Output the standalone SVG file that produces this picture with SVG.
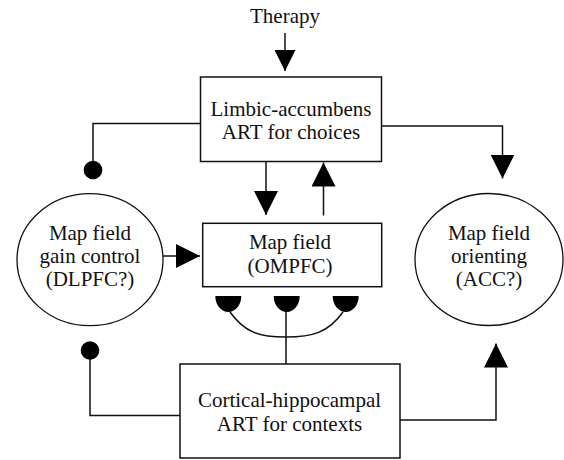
<svg xmlns="http://www.w3.org/2000/svg" width="564" height="460" viewBox="0 0 564 460">
  <style>
    .box { fill: #ffffff; stroke: #111111; stroke-width: 1.5; }
    .oval { fill: #ffffff; stroke: #111111; stroke-width: 1.3; }
    .wire { fill: none; stroke: #111111; stroke-width: 1.5; }
    .cup { fill: #000000; }
    text { font-family: "Liberation Serif", "Times New Roman", serif; font-size: 21px; fill: #111111; text-anchor: middle; }
  </style>
  <defs>
    <marker id="tri" viewBox="0 0 24 24" refX="24" refY="12" markerWidth="24" markerHeight="24" markerUnits="userSpaceOnUse" orient="auto">
      <path d="M0,0 L24,12 L0,24 Z" fill="#000000"/>
    </marker>
    <marker id="tri-small" viewBox="0 0 21 21" refX="21" refY="10.5" markerWidth="21" markerHeight="21" markerUnits="userSpaceOnUse" orient="auto">
      <path d="M0,0 L21,10.5 L0,21 Z" fill="#000000"/>
    </marker>
    <marker id="dot" viewBox="0 0 20 20" refX="10" refY="10" markerWidth="20" markerHeight="20" markerUnits="userSpaceOnUse">
      <circle cx="10" cy="10" r="9.3" fill="#000000"/>
    </marker>
  </defs>

  <g id="connectors">
    <path class="wire" d="M285,33 V71" marker-end="url(#tri-small)"/>
    <path class="wire" d="M266,161.5 V215" marker-end="url(#tri)"/>
    <path class="wire" d="M323.5,215.5 V162.5" marker-end="url(#tri)"/>
    <path class="wire" d="M200,123.5 H93 V170" marker-end="url(#dot)"/>
    <path class="wire" d="M381.5,126 H502.5 V178.5" marker-end="url(#tri)"/>
    <path class="wire" d="M163,256 H200" marker-end="url(#tri)"/>
    <path class="wire" d="M180,415.5 H90 V350.5" marker-end="url(#dot)"/>
    <path class="wire" d="M400,420 H496 V343.5" marker-end="url(#tri)"/>
    <path class="wire" d="M286,364 V311"/>
    <path class="wire" d="M230,312 C245,333 260,337 286,337 C312,337 328,333 343,312"/>
    <path class="cup" d="M215.3,296 A13,16 0 0 0 241.3,296 Z"/>
    <path class="cup" d="M273.7,296 A13,16 0 0 0 299.7,296 Z"/>
    <path class="cup" d="M332.7,296 A13,16 0 0 0 358.7,296 Z"/>
  </g>

  <g id="therapy">
    <text x="285" y="23">Therapy</text>
  </g>

  <g id="limbic-accumbens">
    <rect class="box" x="200.5" y="77" width="181" height="84.5"/>
    <text x="291" y="116">Limbic-accumbens</text>
    <text x="291" y="139">ART for choices</text>
  </g>

  <g id="map-field">
    <rect class="box" x="202.7" y="223.3" width="179" height="63.4"/>
    <text x="290" y="248.5">Map field</text>
    <text x="290" y="273">(OMPFC)</text>
  </g>

  <g id="gain-control">
    <ellipse class="oval" cx="90" cy="259.7" rx="73" ry="66"/>
    <text x="90" y="240">Map field</text>
    <text x="90" y="263">gain control</text>
    <text x="90" y="286">(DLPFC?)</text>
  </g>

  <g id="orienting">
    <ellipse class="oval" cx="489" cy="259.5" rx="74" ry="66"/>
    <text x="489" y="240">Map field</text>
    <text x="489" y="263">orienting</text>
    <text x="489" y="286">(ACC?)</text>
  </g>

  <g id="cortical-hippocampal">
    <rect class="box" x="180" y="364" width="220" height="94"/>
    <text x="289.5" y="407">Cortical-hippocampal</text>
    <text x="289.5" y="431">ART for contexts</text>
  </g>
</svg>
